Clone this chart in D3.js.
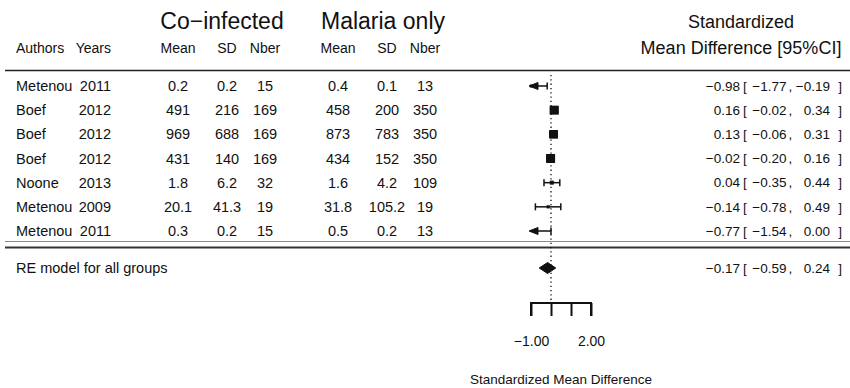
<!DOCTYPE html>
<html>
<head>
<meta charset="utf-8">
<script src="https://cdn.jsdelivr.net/npm/d3@7"></script>
<style>
  html, body { margin: 0; padding: 0; background: #fff; }
  svg { display: block; font-family: "Liberation Sans", Arial, sans-serif; }
</style>
</head>
<body>
<svg id="chart" width="850" height="388"></svg>
<script>
// Study table
const authors = ["Metenou", "Boef", "Boef", "Boef", "Noone", "Metenou", "Metenou"];
const years   = [2011, 2012, 2012, 2012, 2013, 2009, 2011];
const coMean  = [0.2, 491, 969, 431, 1.8, 20.1, 0.3];
const coSD    = [0.2, 216, 688, 140, 6.2, 41.3, 0.2];
const coN     = [15, 169, 169, 169, 32, 19, 15];
const malMean = [0.4, 458, 873, 434, 1.6, 31.8, 0.5];
const malSD   = [0.1, 200, 783, 152, 4.2, 105.2, 0.2];
const malN    = [13, 350, 350, 350, 109, 19, 13];

// Standardized mean differences with 95% CI
const smd    = [-0.98, 0.16, 0.13, -0.02, 0.04, -0.14, -0.77];
const ciLow  = [-1.77, -0.02, -0.06, -0.20, -0.35, -0.78, -1.54];
const ciHigh = [-0.19, 0.34, 0.31, 0.16, 0.44, 0.49, 0.00];

// Random-effects summary
const summaryLabel = "RE model for all groups";
const summaryEst = -0.17, summaryLow = -0.59, summaryHigh = 0.24;

// Axis
const axisTicks = [-1, 0, 1, 2];
const axisLabelled = [-1, 2];
const axisTitle = "Standardized Mean Difference";

const svg = d3.select("#chart");
const ink = "#111";
const fmt = d3.format(".2f");

const x = d3.scaleLinear().domain([-1, 2]).range([531, 591]);
const y = d3.scaleLinear().domain([0, authors.length - 1]).range([86, 231]);
const ySummary = 268;
const yAxis = 303;

// Square size from inverse-variance weights
const weights = ciLow.map((lo, i) => { const se = (ciHigh[i] - lo) / 3.92; return 1 / (se * se); });
const size = d3.scaleLinear().domain(d3.extent(weights)).range([3, 9]);

// ---- header text ----
function txt(g, xx, yy, s, anchor, fs) {
  return g.append("text").attr("x", xx).attr("y", yy).attr("dy", "0.35em")
    .attr("text-anchor", anchor || "start").attr("font-size", fs || 14)
    .attr("fill", ink).text(s);
}
const head = svg.append("g");
txt(head, 222, 21, "Co\u2212infected", "middle", 23);
txt(head, 383, 21, "Malaria only", "middle", 23);
txt(head, 741, 22, "Standardized", "middle", 18);
txt(head, 741, 48, "Mean Difference [95%CI]", "middle", 18);

const cols = [
  { x: 16,  anchor: "start",  label: "Authors", vals: authors },
  { x: 111, anchor: "end",    label: "Years",   vals: years },
  { x: 178, anchor: "middle", label: "Mean",    vals: coMean },
  { x: 227, anchor: "middle", label: "SD",      vals: coSD },
  { x: 265, anchor: "middle", label: "Nber",    vals: coN },
  { x: 338, anchor: "middle", label: "Mean",    vals: malMean },
  { x: 387, anchor: "middle", label: "SD",      vals: malSD },
  { x: 425, anchor: "middle", label: "Nber",    vals: malN }
];
cols.forEach(c => {
  txt(head, c.x, 48, c.label, c.anchor, 14);
  c.vals.forEach((v, i) => txt(head, c.x, y(i), String(v), c.anchor, 14.5));
});

// ---- rules ----
svg.append("line").attr("x1", 5).attr("x2", 850).attr("y1", 70.5).attr("y2", 70.5)
  .attr("stroke", "#222").attr("stroke-width", 1.5);
svg.append("line").attr("x1", 5).attr("x2", 850).attr("y1", 241.5).attr("y2", 241.5)
  .attr("stroke", "#8a8a8a").attr("stroke-width", 1.2);
svg.append("line").attr("x1", 5).attr("x2", 850).attr("y1", 247.5).attr("y2", 247.5)
  .attr("stroke", "#333").attr("stroke-width", 2);

// ---- reference line at zero ----
svg.append("line").attr("x1", x(0)).attr("x2", x(0)).attr("y1", 75).attr("y2", yAxis)
  .attr("stroke", "#111").attr("stroke-width", 1.3).attr("stroke-dasharray", "1.3,3");

// ---- study marks ----
const [lim0, lim1] = x.domain();
const marks = svg.append("g").attr("stroke", ink).attr("fill", ink);
smd.forEach((est, i) => {
  const yy = y(i);
  const lo = Math.max(ciLow[i], lim0), hi = Math.min(ciHigh[i], lim1);
  marks.append("line").attr("x1", x(lo)).attr("x2", x(hi)).attr("y1", yy).attr("y2", yy)
    .attr("stroke-width", 1.5);
  // left end: arrow if CI runs past the axis limit, otherwise a cap
  if (ciLow[i] < lim0) {
    const tip = x(lim0) - 2;
    marks.append("path").attr("d", `M${tip},${yy} L${tip + 9},${yy - 3.5} L${tip + 9},${yy + 3.5} Z`)
      .attr("stroke-width", 1);
  } else {
    marks.append("line").attr("x1", x(lo)).attr("x2", x(lo)).attr("y1", yy - 3.5).attr("y2", yy + 3.5)
      .attr("stroke-width", 1.5);
  }
  if (ciHigh[i] > lim1) {
    const tip = x(lim1) + 2;
    marks.append("path").attr("d", `M${tip},${yy} L${tip - 9},${yy - 3.5} L${tip - 9},${yy + 3.5} Z`);
  } else {
    marks.append("line").attr("x1", x(hi)).attr("x2", x(hi)).attr("y1", yy - 3.5).attr("y2", yy + 3.5)
      .attr("stroke-width", 1.5);
  }
  const s = size(weights[i]);
  marks.append("rect").attr("x", x(est) - s / 2).attr("y", yy - s / 2)
    .attr("width", s).attr("height", s).attr("stroke", "none");
});

// ---- summary diamond ----
svg.append("path")
  .attr("d", `M${x(summaryLow)},${ySummary} L${x(summaryEst)},${ySummary - 5.5} L${x(summaryHigh)},${ySummary} L${x(summaryEst)},${ySummary + 5.5} Z`)
  .attr("fill", ink).attr("stroke", ink).attr("stroke-width", 1);
txt(svg, 16, ySummary, summaryLabel, "start", 14.5);

// ---- right-hand annotations ----
const ann = svg.append("g");
function annotate(yy, est, lo, hi) {
  txt(ann, 740, yy, fmt(est), "end", 13.5);
  txt(ann, 743, yy, "[", "start", 13.5);
  txt(ann, 786.5, yy, fmt(lo), "end", 13.5);
  txt(ann, 788.5, yy, ",", "start", 13.5);
  txt(ann, 830, yy, fmt(hi), "end", 13.5);
  txt(ann, 842, yy, "]", "end", 13.5);
}
smd.forEach((est, i) => annotate(y(i), est, ciLow[i], ciHigh[i]));
annotate(ySummary, summaryEst, summaryLow, summaryHigh);

// ---- axis ----
const axis = d3.axisBottom(x).tickValues(axisTicks).tickSize(13).tickPadding(20)
  .tickFormat(d => axisLabelled.includes(d) ? fmt(d) : "");
const ag = svg.append("g").attr("transform", `translate(0,${yAxis})`).call(axis);
ag.select(".domain").attr("d", `M${x(lim0)},13V0H${x(lim1)}V13`).attr("stroke", ink).attr("stroke-width", 2);
ag.selectAll(".tick line").attr("stroke", ink).attr("stroke-width", 2);
ag.selectAll(".tick text").attr("font-size", 14).attr("fill", ink)
  .attr("font-family", "Liberation Sans, Arial, sans-serif");
txt(svg, (x(lim0) + x(lim1)) / 2, 379, axisTitle, "middle", 13.5);
</script>
</body>
</html>
